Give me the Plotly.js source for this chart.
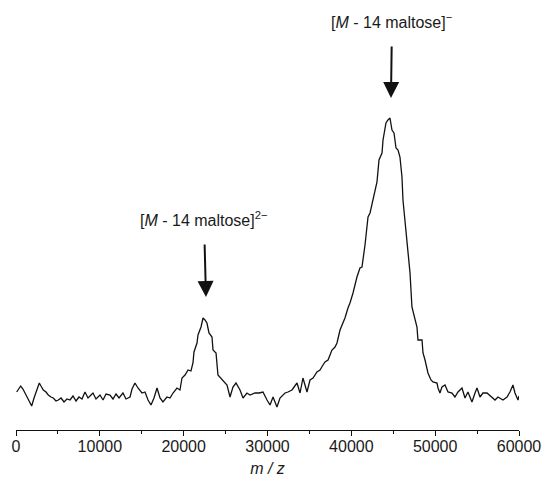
<!DOCTYPE html>
<html>
<head>
<meta charset="utf-8">
<script src="https://cdn.plot.ly/plotly-3.0.1.min.js"></script>
<style>html,body{margin:0;padding:0;background:#fff;}#chart{width:546px;height:487px;}</style>
</head>
<body>
<div id="chart"></div>
<script>
// m/z values (Da/e)
const mz = [80,560,830,1070,1430,1870,2150,2470,2780,2980,3260,3580,3850,4170,4450,4770,5050,5370,5730,6080,
6440,6800,7160,7510,7870,8230,8590,8950,9180,9540,10020,10380,10740,11210,11570,11930,12290,12760,13120,13360,
13600,13840,14190,14550,15030,15390,15750,16100,16460,16820,17180,17530,18010,18370,18730,19200,19560,19800,20160,20520,
20870,21110,21230,21590,21710,22070,22310,22540,22780,23020,23380,23500,23860,24090,24450,24690,25170,25530,25880,26240,
26720,27080,27550,27910,28510,28990,29460,29940,30300,30660,31130,31490,32090,32440,32920,33520,33880,34230,34710,35070,
35430,35900,36260,36620,36860,37220,37690,38050,38290,38650,38890,39240,39600,39840,40200,40670,41030,41270,41630,41990,
42230,42580,42820,43060,43300,43660,43780,44130,44370,44610,44850,45090,45330,45570,45800,46040,46160,46400,46640,46880,
47000,47230,47590,47830,47950,48430,48550,48790,49140,49500,49740,50220,50340,50570,50810,51170,51530,52010,52360,52720,
53200,53560,53910,54390,54750,54990,55350,55700,56180,56780,57140,57490,58090,58570,58920,59280,59520,59880,60000];
// relative intensity (a.u.)
const intensity = [38,44,41,37,32,24,32,40,47,44,40,38,35,33,32,29,30,32,28,31,
30,34,29,33,31,38,32,35,37,31,35,30,36,35,31,36,32,37,31,32,
33,41,47,42,37,38,30,25,32,42,32,28,33,32,37,42,40,52,55,60,
59,67,78,87,95,103,112,110,107,97,93,80,77,55,52,50,45,33,43,47,
40,32,37,35,37,37,38,30,25,33,23,32,37,38,40,47,37,52,38,50,
52,58,60,65,68,70,80,83,87,100,105,112,122,127,137,153,162,163,185,213,
217,230,240,248,270,277,290,307,310,312,300,297,282,280,273,253,230,208,185,163,
157,123,110,103,90,90,77,70,57,50,48,47,42,37,43,45,38,37,33,38,
42,32,38,28,37,42,33,37,37,33,30,33,30,33,38,45,37,30,34];
const xTickVals = [0,10000,20000,30000,40000,50000,60000];
const xTickText = ['0','10000','20000','30000','40000','50000','60000'];
const peakLabels = ['[<i>M</i> - 14 maltose]<sup>2\u2212</sup>', '[<i>M</i> - 14 maltose]<sup>\u2212</sup>'];
const arrowTipX = [22660, 44730];
const arrowTipY = [133, 332];

const font = 'Liberation Sans, Arial, Helvetica, sans-serif';
const trace = {
  x: mz, y: intensity, type: 'scatter', mode: 'lines',
  line: {color: '#111', width: 1.3}, hoverinfo: 'skip'
};
const annotations = peakLabels.map((t, i) => ({
  x: arrowTipX[i], y: arrowTipY[i], xref: 'x', yref: 'y', text: t,
  showarrow: true, ax: i === 0 ? -2 : 1, ay: i === 0 ? -78 : -77, axref: 'pixel', ayref: 'pixel',
  arrowhead: 2, arrowwidth: 2, arrowsize: 1.6, arrowcolor: '#111',
  startstandoff: 14, standoff: 0,
  font: {family: font, size: 16, color: '#1a1a1a'}
}));
const layout = {
  width: 546, height: 487,
  margin: {l: 16, r: 27, t: 0, b: 57},
  paper_bgcolor: '#fff', plot_bgcolor: '#fff',
  showlegend: false,
  font: {family: font, color: '#1a1a1a'},
  xaxis: {
    range: [0, 60000], showgrid: false, zeroline: false,
    showline: true, linecolor: '#111', linewidth: 1,
    ticks: 'outside', ticklen: 5, tickwidth: 1, tickcolor: '#111',
    tickvals: xTickVals, ticktext: xTickText, ticklabelstandoff: -3,
    tickfont: {family: font, size: 16, color: '#1a1a1a'},
    minor: {dtick: 5000, tick0: 0, ticks: 'outside', ticklen: 3, tickcolor: '#111', showgrid: false},
    title: {text: '<i>m / z</i>', font: {family: font, size: 16, color: '#1a1a1a'}, standoff: 8}
  },
  yaxis: {range: [0, 430], visible: false, showgrid: false, zeroline: false},
  annotations: annotations
};
Plotly.newPlot('chart', [trace], layout, {staticPlot: true, displayModeBar: false});
</script>
</body>
</html>
